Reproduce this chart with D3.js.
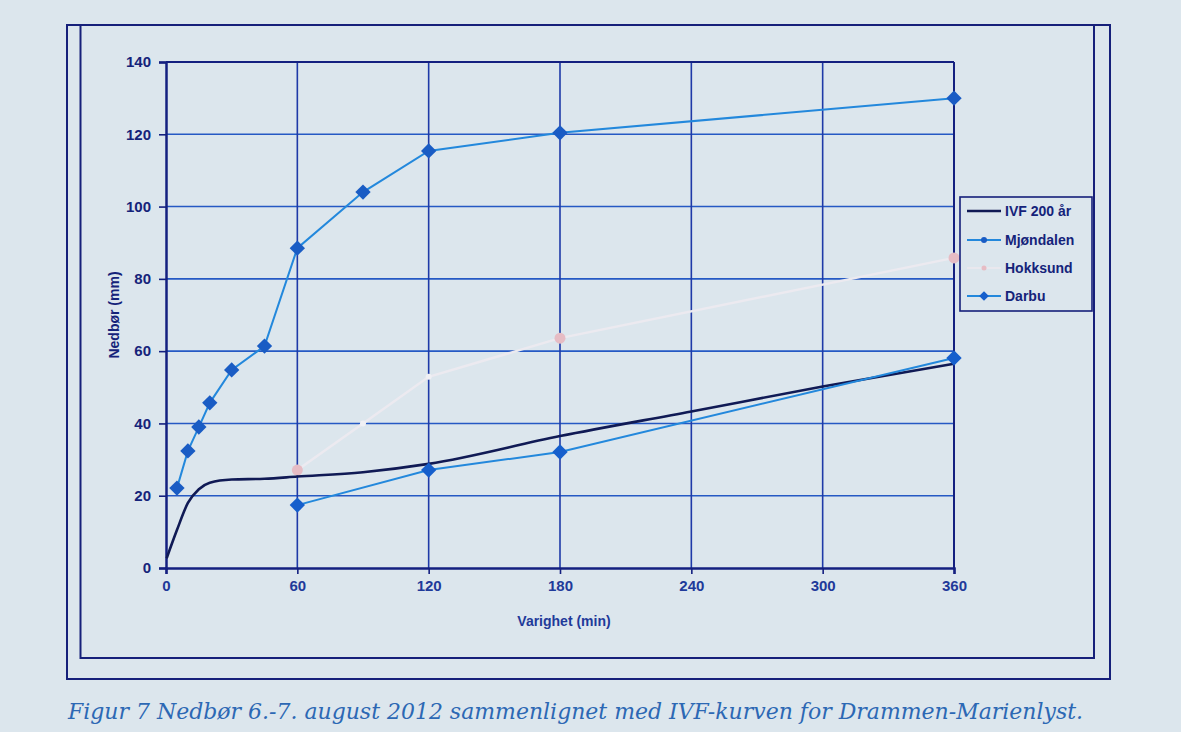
<!DOCTYPE html>
<html><head><meta charset="utf-8">
<script src="https://cdn.jsdelivr.net/npm/d3@7"></script>
<style>
html,body{margin:0;padding:0;background:#dce6ed;}
svg{display:block;}
</style></head>
<body>
<svg id="c" width="1181" height="732"></svg>
<script>
// ---- data ----
const xTicks = [0, 60, 120, 180, 240, 300, 360];
const yTicks = [0, 20, 40, 60, 80, 100, 120, 140];
const ivfX = [0.3, 5, 10, 15, 20, 30, 45, 60, 90, 120, 180, 240, 300, 360];
const ivfY = [2.7, 10.5, 18, 21.8, 23.6, 24.5, 24.7, 25.3, 26.5, 28.8, 36.5, 43.3, 50.2, 56.5];
const mjoX = [5, 10, 15, 20, 30, 45, 60, 90, 120, 180, 360];
const mjoY = [22.1, 32.4, 39, 45.7, 54.8, 61.4, 88.5, 104, 115.4, 120.4, 130];
const hokX = [60, 90, 120, 180, 360];
const hokY = [27.1, 40, 52.9, 63.6, 85.8];
const darX = [60, 120, 180, 360];
const darY = [17.4, 27.1, 32.1, 58.1];
const seriesNames = ["IVF 200 år", "Mjøndalen", "Hokksund", "Darbu"];
const caption = "Figur 7 Nedbør 6.-7. august 2012 sammenlignet med IVF-kurven for Drammen-Marienlyst.";

const svg = d3.select("#c");
const W = 1181, H = 732;
svg.append("rect").attr("width", W).attr("height", H).attr("fill", "#dce6ed");

// frames
svg.append("rect").attr("x", 67).attr("y", 25).attr("width", 1043).attr("height", 654)
  .attr("fill", "none").attr("stroke", "#16207a").attr("stroke-width", 2);
svg.append("rect").attr("x", 80.5).attr("y", 25).attr("width", 1013.5).attr("height", 633)
  .attr("fill", "none").attr("stroke", "#16207a").attr("stroke-width", 2);

const pL = 166, pR = 954, pT = 62, pB = 568;
const x = d3.scaleLinear().domain([0, 360]).range([pL, pR]);
const y = d3.scaleLinear().domain([0, 140]).range([pB, pT]);

// grid
const g = svg.append("g");
g.selectAll(".hg").data(yTicks.filter(d => d > 0 && d < 140)).enter().append("line")
  .attr("x1", pL).attr("x2", pR).attr("y1", d => y(d)).attr("y2", d => y(d))
  .attr("stroke", "#2559c4").attr("stroke-width", 1.6);
g.selectAll(".vg").data(xTicks.filter(d => d > 0 && d < 360)).enter().append("line")
  .attr("y1", pT).attr("y2", pB).attr("x1", d => x(d)).attr("x2", d => x(d))
  .attr("stroke", "#1f3aa8").attr("stroke-width", 1.6);
g.append("line").attr("x1", pL).attr("x2", pR).attr("y1", pT).attr("y2", pT)
  .attr("stroke", "#142080").attr("stroke-width", 2);
g.append("line").attr("x1", pR).attr("x2", pR).attr("y1", pT).attr("y2", pB)
  .attr("stroke", "#142080").attr("stroke-width", 2);

// axes
const xAxis = d3.axisBottom(x).tickValues(xTicks).tickSize(6).tickPadding(6);
const yAxis = d3.axisLeft(y).tickValues(yTicks).tickSize(7).tickPadding(8);
const gx = svg.append("g").attr("transform", `translate(0,${pB})`).call(xAxis);
const gy = svg.append("g").attr("transform", `translate(${pL},0)`).call(yAxis);
[gx, gy].forEach(a => {
  a.select(".domain").attr("stroke", "#142080").attr("stroke-width", 2.5);
  a.selectAll(".tick line").attr("stroke", "#142080").attr("stroke-width", 1.6);
  a.selectAll(".tick text").attr("fill", "#15237a")
    .style("font-family", "Liberation Sans, Arial, sans-serif")
    .style("font-size", "15px").style("font-weight", "bold");
});
gx.selectAll(".tick text").attr("fill", "#1f3a9a");

// axis titles
svg.append("text").attr("x", x(180) + 4).attr("y", 626).attr("text-anchor", "middle")
  .attr("fill", "#1f3a9a").style("font-family", "Liberation Sans, Arial, sans-serif")
  .style("font-size", "14px").style("font-weight", "bold").text("Varighet (min)");
svg.append("text").attr("transform", `translate(119,${y(70)}) rotate(-90)`).attr("text-anchor", "middle")
  .attr("fill", "#15237a").style("font-family", "Liberation Sans, Arial, sans-serif")
  .style("font-size", "14px").style("font-weight", "bold").text("Nedbør (mm)");

const toPts = (xs, ys) => xs.map((v, i) => [v, ys[i]]);
const line = d3.line().x(d => x(d[0])).y(d => y(d[1]));
const smooth = d3.line().x(d => x(d[0])).y(d => y(d[1])).curve(d3.curveMonotoneX);
const diamond = d3.symbol().type(d3.symbolDiamond2);

// Hokksund
const hok = toPts(hokX, hokY);
svg.append("path").attr("d", line(hok)).attr("fill", "none").attr("stroke", "#eceaf0").attr("stroke-width", 2.5);
svg.selectAll(".hk").data(hok).enter().append("circle")
  .attr("cx", d => x(d[0])).attr("cy", d => y(d[1])).attr("r", (d, i) => (i === 1 || i === 2) ? 3 : 5.5)
  .attr("fill", (d, i) => (i === 1 || i === 2) ? "#f0f0f4" : "#e6bcc4");

// IVF
svg.append("path").attr("d", smooth(toPts(ivfX, ivfY))).attr("fill", "none")
  .attr("stroke", "#101a55").attr("stroke-width", 2.6);

// Darbu
const dar = toPts(darX, darY);
svg.append("path").attr("d", line(dar)).attr("fill", "none").attr("stroke", "#2388dc").attr("stroke-width", 2);
svg.selectAll(".dm").data(dar).enter().append("path")
  .attr("d", diamond.size(150)()).attr("transform", d => `translate(${x(d[0])},${y(d[1])})`)
  .attr("fill", "#165fcc");

// Mjøndalen
const mjo = toPts(mjoX, mjoY);
svg.append("path").attr("d", line(mjo)).attr("fill", "none").attr("stroke", "#2388dc").attr("stroke-width", 2);
svg.selectAll(".mm").data(mjo).enter().append("path")
  .attr("d", diamond.size(150)()).attr("transform", d => `translate(${x(d[0])},${y(d[1])})`)
  .attr("fill", "#1a5cc4");

// legend
const lg = svg.append("g");
lg.append("rect").attr("x", 960).attr("y", 197).attr("width", 132).attr("height", 114)
  .attr("fill", "#dce6ed").attr("stroke", "#16207a").attr("stroke-width", 1.6);
const ly = [211, 240, 268, 296];
const lstroke = ["#101a55", "#2388dc", "#e9e8ee", "#2388dc"];
seriesNames.forEach((n, i) => {
  lg.append("line").attr("x1", 967).attr("x2", 1001).attr("y1", ly[i]).attr("y2", ly[i])
    .attr("stroke", lstroke[i]).attr("stroke-width", i === 0 ? 2.5 : 2);
  if (i === 1) lg.append("circle").attr("cx", 984).attr("cy", ly[i]).attr("r", 3).attr("fill", "#1a5cc4");
  if (i === 2) lg.append("circle").attr("cx", 984).attr("cy", ly[i]).attr("r", 2.5).attr("fill", "#e6bcc4");
  if (i === 3) lg.append("path").attr("d", diamond.size(60)()).attr("transform", `translate(984,${ly[i]})`).attr("fill", "#165fcc");
  lg.append("text").attr("x", 1005).attr("y", ly[i] + 5).attr("fill", "#15237a")
    .style("font-family", "Liberation Sans, Arial, sans-serif").style("font-size", "14px")
    .style("font-weight", "bold").text(n);
});

// caption
svg.append("text").attr("x", 68).attr("y", 719).attr("fill", "#2c68b4")
  .style("font-family", "DejaVu Serif, serif").style("font-style", "italic").style("font-size", "22px")
  .attr("textLength", 1015).attr("lengthAdjust", "spacingAndGlyphs").text(caption);
</script>
</body></html>
